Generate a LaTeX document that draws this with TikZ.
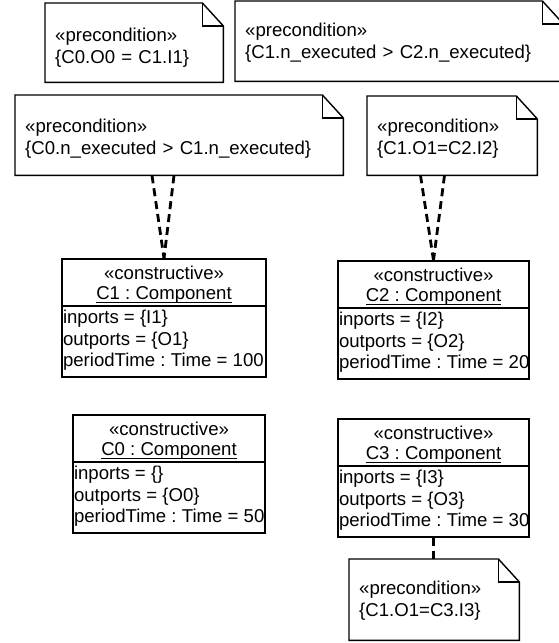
\documentclass[tikz,border=0pt]{standalone}
\usepackage{fontspec}
\setmainfont{Liberation Sans}
\usetikzlibrary{calc}
\frenchspacing
\newcommand\ulname[1]{\setbox0=\hbox{#1}\rlap{\rule[-3pt]{\wd0}{1.1pt}}\box0}
\newcommand\lift[1]{\rule{0pt}{#1pt}}
\begin{document}
\begin{tikzpicture}[x=1pt,y=-1pt,
  txt/.style={font=\fontsize{18.6}{22}\selectfont, inner sep=0pt},
  notenode/.style={txt, align=left, inner xsep=10pt, inner ysep=0pt, anchor=north west, fill=white},
  outline/.style={line width=1.4pt, line join=miter},
  compbox/.style={draw, line width=1.4pt, fill=white, inner sep=0pt, minimum height=118pt},
  divider/.style={line width=2pt},
  hdr/.style={inner sep=0pt, anchor=base, font=\fontsize{18.6}{20.5}\selectfont},
  attr/.style={inner sep=0pt, anchor=base west, font=\fontsize{18.6}{21.5}\selectfont},
  dep/.style={line width=2.8pt, dash pattern=on 8pt off 5pt}
]
\useasboundingbox (0,0) rectangle (559,643);
\fill[white] (0,0) rectangle (559,643);

\newcommand\notefold[1]{%
  \draw[outline] (#1.north west) -- ([xshift=-21pt]#1.north east) -- ([yshift=-23pt]#1.north east) -- (#1.south east) -- (#1.south west) -- cycle;
  \draw[outline] ([xshift=-21pt]#1.north east) |- ([yshift=-23pt]#1.north east);}

% notes
\node[notenode, minimum width=178pt, minimum height=79pt, text width=158pt] (n1) at (45,3)
  {\lift{24}«precondition»\\\{C0.O0 = C1.I1\}};
\node[notenode, minimum width=328pt, minimum height=80pt, text width=308pt] (n2) at (235,1)
  {\lift{17.4}«precondition»\\\{C1.n\_executed > C2.n\_executed\}};
\node[notenode, minimum width=328pt, minimum height=80pt, text width=308pt] (n3) at (15,95)
  {\lift{21.4}«precondition»\\\{C0.n\_executed > C1.n\_executed\}};
\node[notenode, minimum width=170pt, minimum height=79pt, text width=150pt] (n4) at (367,96)
  {\lift{20.4}«precondition»\\\{C1.O1=C2.I2\}};
\node[notenode, minimum width=170pt, minimum height=81pt, text width=150pt] (n5) at (349,559)
  {\lift{16.4}«precondition»\\\{C1.O1=C3.I3\}};
\notefold{n1}
\notefold{n2}
\notefold{n3}
\notefold{n4}
\notefold{n5}

% components
\node[compbox, minimum width=204pt] (c1) at (164,318) {};
\node[compbox, minimum width=191pt] (c2) at (433.5,320) {};
\node[compbox, minimum width=192pt] (c0) at (169,474) {};
\node[compbox, minimum width=191pt] (c3) at (433.5,478) {};

\foreach \cc in {c1,c2,c0,c3}{
  \draw[divider] ([yshift=-48pt]\cc.north west) -- ([yshift=-48pt]\cc.north east);
}

\node[hdr] (c1h) at ([yshift=-21pt]c1.north) {\begin{tabular}[t]{@{}c@{}}«constructive»\\\ulname{C1 : Component}\end{tabular}};
\node[hdr] (c2h) at ([yshift=-21pt]c2.north) {\begin{tabular}[t]{@{}c@{}}«constructive»\\\ulname{C2 : Component}\end{tabular}};
\node[hdr] (c0h) at ([yshift=-21pt]c0.north) {\begin{tabular}[t]{@{}c@{}}«constructive»\\\ulname{C0 : Component}\end{tabular}};
\node[hdr] (c3h) at ([yshift=-21pt]c3.north) {\begin{tabular}[t]{@{}c@{}}«constructive»\\\ulname{C3 : Component}\end{tabular}};

\node[attr] (c1a) at ([xshift=1.5pt,yshift=-65.5pt]c1.north west) {\begin{tabular}[t]{@{}l@{}}inports = \{I1\}\\outports = \{O1\}\\periodTime : Time = 100\end{tabular}};
\node[attr] (c2a) at ([xshift=1.5pt,yshift=-65.5pt]c2.north west) {\begin{tabular}[t]{@{}l@{}}inports = \{I2\}\\outports = \{O2\}\\periodTime : Time = 20\end{tabular}};
\node[attr] (c0a) at ([xshift=1.5pt,yshift=-65.5pt]c0.north west) {\begin{tabular}[t]{@{}l@{}}inports = \{\}\\outports = \{O0\}\\periodTime : Time = 50\end{tabular}};
\node[attr] (c3a) at ([xshift=1.5pt,yshift=-65.5pt]c3.north west) {\begin{tabular}[t]{@{}l@{}}inports = \{I3\}\\outports = \{O3\}\\periodTime : Time = 30\end{tabular}};

% connectors
\draw[dep] ($(n1.south)+(6,0)$) -- ($(n1.south)+(6,0)$ |- n3.north);
\draw[dep] ($(n2.south)+(7,0)$) -- ($(n2.south)+(7,0)$ |- n4.north);
\draw[dep] ($(c1.north |- n3.south)+(-12,0)$) -- (c1.north);
\draw[dep] ($(c1.north |- n3.south)+(10,0)$) -- (c1.north);
\draw[dep] ($(c2.north |- n4.south)+(-13,0)$) -- (c2.north);
\draw[dep] ($(c2.north |- n4.south)+(11,0)$) -- (c2.north);
\draw[dep] (c3.south) -- (c3.south |- n5.north);
\end{tikzpicture}
\end{document}
